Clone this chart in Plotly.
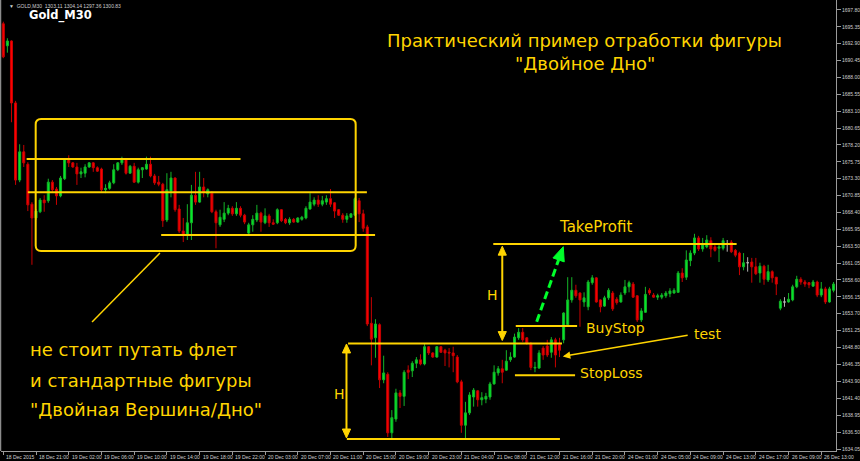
import plotly.graph_objects as go

# ---- GOLD M30 bars (bar index -> OHLC) ----
bars = list(range(204))
opens = [
    1695.8, 1692.6, 1693.3, 1684.3, 1673.1, 1677.2, 1675.4, 1669.6, 1667.6, 1668.5,
    1670.2, 1670.1, 1672.8, 1671.8, 1670.8, 1673.3, 1676.2, 1675.6, 1675.0, 1674.0,
    1674.1, 1675.0, 1675.6, 1674.9, 1674.7, 1671.7, 1671.9, 1672.7, 1674.6, 1675.6,
    1676.2, 1674.1, 1675.1, 1672.8, 1674.6, 1674.7, 1675.4, 1673.7, 1672.8, 1672.5,
    1667.3, 1671.5, 1673.4, 1668.9, 1665.7, 1665.2, 1666.9, 1670.9, 1669.9, 1672.1,
    1671.1, 1671.2, 1668.5, 1666.6, 1667.4, 1668.3, 1669.0, 1668.2, 1669.0, 1668.0,
    1665.4, 1666.6, 1667.3, 1668.3, 1666.9, 1667.9, 1666.9, 1666.9, 1668.8, 1667.4,
    1666.9, 1667.4, 1667.0, 1667.4, 1667.6, 1668.9, 1669.6, 1670.2, 1669.6, 1669.9,
    1670.4, 1669.8, 1668.8, 1668.0, 1667.4, 1667.7, 1668.0, 1670.1, 1668.2, 1666.3,
    1652.3, 1650.2, 1652.1, 1644.1, 1644.9, 1636.4, 1638.4, 1642.2, 1641.7, 1645.5,
    1645.4, 1646.5, 1647.0, 1646.4, 1648.9, 1648.0, 1647.4, 1648.9, 1648.4, 1648.1,
    1648.0, 1647.4, 1643.8, 1637.5, 1639.3, 1641.6, 1642.5, 1641.2, 1641.3, 1641.6,
    1643.5, 1645.1, 1645.7, 1645.5, 1647.0, 1647.4, 1650.2, 1651.0, 1650.2, 1649.3,
    1645.8, 1645.8, 1648.7, 1649.0, 1648.1, 1649.9, 1649.2, 1649.9, 1652.1, 1655.7,
    1657.1, 1656.7, 1655.4, 1654.7, 1658.2, 1658.9, 1655.7, 1654.8, 1656.0, 1656.7,
    1655.8, 1655.4, 1656.7, 1657.6, 1658.0, 1656.3, 1652.8, 1653.9, 1657.1, 1656.4,
    1656.1, 1656.1, 1656.3, 1656.6, 1656.7, 1656.8, 1659.6, 1659.0, 1661.4, 1662.5,
    1664.7, 1663.1, 1663.4, 1664.3, 1663.4, 1663.2, 1663.2, 1663.8, 1664.1, 1662.9,
    1662.5, 1660.5, 1661.1, 1661.2, 1660.5, 1659.6, 1660.6, 1658.6, 1659.8, 1659.0,
    1654.5, 1655.4, 1655.4, 1655.7, 1657.6, 1658.7, 1658.3, 1658.2, 1657.7, 1658.3,
    1656.4, 1657.3, 1655.4, 1657.1,
]
highs = [
    1696.1, 1693.7, 1693.4, 1684.6, 1678.3, 1678.2, 1675.7, 1669.9, 1668.9, 1670.5,
    1670.9, 1673.3, 1673.1, 1672.1, 1673.7, 1676.3, 1676.7, 1675.7, 1675.6, 1674.9,
    1675.4, 1675.7, 1675.7, 1675.1, 1674.9, 1672.5, 1673.0, 1675.4, 1675.7, 1676.5,
    1676.3, 1675.3, 1675.6, 1674.9, 1675.0, 1676.5, 1676.5, 1674.0, 1673.7, 1672.7,
    1674.1, 1674.3, 1673.5, 1669.5, 1667.6, 1669.6, 1672.4, 1674.3, 1674.3, 1673.4,
    1671.9, 1671.5, 1668.8, 1668.8, 1669.9, 1669.5, 1669.3, 1669.9, 1669.3, 1668.2,
    1666.9, 1668.0, 1669.5, 1668.5, 1669.0, 1668.2, 1667.4, 1669.0, 1668.9, 1667.6,
    1667.7, 1667.6, 1667.7, 1667.9, 1669.3, 1671.2, 1670.6, 1670.9, 1670.8, 1670.9,
    1671.8, 1669.9, 1668.9, 1668.3, 1668.3, 1668.3, 1670.6, 1670.5, 1668.8, 1666.6,
    1656.1, 1652.9, 1652.3, 1647.6, 1645.2, 1639.7, 1642.8, 1642.6, 1645.5, 1646.2,
    1646.8, 1647.4, 1647.8, 1649.3, 1649.0, 1648.1, 1649.0, 1649.0, 1648.6, 1648.7,
    1648.9, 1647.7, 1644.1, 1640.9, 1642.3, 1642.9, 1642.6, 1642.3, 1642.2, 1643.8,
    1646.2, 1646.1, 1647.0, 1648.4, 1648.1, 1650.8, 1651.6, 1651.6, 1650.3, 1649.6,
    1646.7, 1648.4, 1649.0, 1649.9, 1650.3, 1650.2, 1650.2, 1653.9, 1659.0, 1659.0,
    1657.9, 1656.8, 1656.8, 1658.6, 1659.3, 1659.0, 1655.8, 1656.3, 1657.4, 1657.0,
    1656.1, 1656.8, 1658.6, 1658.5, 1658.3, 1656.4, 1654.5, 1657.6, 1657.4, 1656.7,
    1656.6, 1656.7, 1657.0, 1657.4, 1657.4, 1659.9, 1660.3, 1662.9, 1662.9, 1665.3,
    1665.0, 1664.7, 1665.1, 1664.8, 1663.8, 1663.8, 1664.7, 1664.4, 1664.4, 1663.1,
    1662.7, 1662.5, 1661.9, 1661.8, 1661.8, 1661.1, 1660.8, 1660.8, 1660.0, 1659.0,
    1655.8, 1656.1, 1656.7, 1657.9, 1659.2, 1659.0, 1658.6, 1658.3, 1658.6, 1658.5,
    1658.3, 1657.6, 1657.6, 1658.3,
]
lows = [
    1690.8, 1691.6, 1681.5, 1672.4, 1672.8, 1675.0, 1668.6, 1660.8, 1667.3, 1668.3,
    1668.5, 1669.8, 1671.4, 1669.5, 1670.6, 1673.1, 1675.0, 1674.9, 1672.4, 1673.4,
    1673.5, 1674.9, 1674.3, 1674.3, 1671.4, 1671.2, 1671.7, 1672.5, 1674.4, 1675.3,
    1673.9, 1674.0, 1672.7, 1672.6, 1673.4, 1674.6, 1673.5, 1672.4, 1672.2, 1666.3,
    1667.0, 1670.6, 1668.5, 1665.4, 1664.1, 1664.4, 1664.4, 1669.5, 1669.8, 1670.6,
    1670.6, 1668.3, 1663.2, 1666.3, 1667.0, 1668.0, 1667.9, 1667.9, 1667.7, 1666.7,
    1665.0, 1665.6, 1667.0, 1665.6, 1666.7, 1666.3, 1666.6, 1666.7, 1667.0, 1666.7,
    1666.6, 1666.9, 1666.9, 1667.2, 1667.4, 1668.8, 1669.3, 1669.2, 1669.3, 1669.5,
    1669.2, 1667.6, 1667.9, 1666.9, 1666.9, 1667.6, 1667.9, 1667.0, 1665.6, 1651.9,
    1646.2, 1647.3, 1642.9, 1643.6, 1635.8, 1635.6, 1638.0, 1640.0, 1640.3, 1644.2,
    1644.5, 1645.8, 1646.2, 1646.2, 1647.7, 1647.3, 1647.3, 1648.0, 1646.1, 1645.9,
    1645.2, 1643.6, 1636.4, 1635.6, 1639.0, 1640.2, 1640.2, 1640.4, 1640.7, 1641.2,
    1643.4, 1644.7, 1643.6, 1645.4, 1646.7, 1647.3, 1649.9, 1649.6, 1649.2, 1645.5,
    1645.2, 1645.7, 1647.0, 1647.4, 1647.3, 1645.9, 1647.4, 1649.4, 1651.8, 1655.3,
    1656.0, 1651.8, 1654.7, 1654.2, 1657.9, 1655.3, 1653.9, 1654.7, 1655.7, 1654.1,
    1655.0, 1655.3, 1656.4, 1656.8, 1656.0, 1652.5, 1652.5, 1653.8, 1656.4, 1656.0,
    1655.7, 1655.8, 1656.0, 1656.1, 1656.6, 1656.7, 1658.3, 1658.6, 1660.6, 1662.2,
    1662.8, 1662.7, 1663.2, 1661.9, 1662.7, 1661.2, 1662.9, 1662.7, 1662.5, 1661.9,
    1659.3, 1660.0, 1659.8, 1658.2, 1659.3, 1658.2, 1657.9, 1658.3, 1658.2, 1656.4,
    1654.2, 1654.7, 1655.3, 1655.5, 1657.4, 1657.9, 1657.6, 1657.4, 1657.6, 1656.1,
    1656.1, 1655.1, 1655.3, 1656.8,
]
closes = [
    1691.0, 1693.3, 1684.3, 1673.1, 1677.2, 1675.6, 1669.5, 1667.6, 1668.6, 1670.2,
    1669.8, 1672.8, 1671.7, 1670.8, 1673.4, 1676.2, 1675.6, 1675.0, 1674.0, 1674.3,
    1675.0, 1675.6, 1674.9, 1674.4, 1671.7, 1671.9, 1672.7, 1674.6, 1675.6, 1676.2,
    1674.1, 1675.1, 1672.8, 1674.6, 1674.9, 1675.4, 1673.7, 1672.7, 1672.5, 1667.2,
    1671.7, 1673.4, 1668.8, 1665.7, 1665.1, 1666.9, 1670.9, 1669.9, 1672.1, 1671.4,
    1671.7, 1668.5, 1666.9, 1667.7, 1668.3, 1669.0, 1668.2, 1669.0, 1668.0, 1667.0,
    1666.6, 1667.4, 1668.3, 1667.0, 1667.9, 1666.9, 1666.7, 1668.8, 1667.2, 1666.9,
    1667.4, 1667.0, 1667.6, 1667.7, 1669.0, 1669.9, 1670.2, 1669.6, 1670.1, 1670.4,
    1669.6, 1668.6, 1668.0, 1667.4, 1667.9, 1668.2, 1670.4, 1668.2, 1666.1, 1652.2,
    1650.0, 1652.2, 1644.1, 1645.1, 1636.4, 1638.6, 1642.2, 1641.7, 1645.2, 1645.2,
    1646.5, 1647.0, 1646.4, 1648.9, 1648.0, 1647.4, 1648.9, 1648.1, 1648.0, 1648.0,
    1647.6, 1643.8, 1637.5, 1639.3, 1641.9, 1642.6, 1641.2, 1641.5, 1641.7, 1643.5,
    1645.2, 1645.7, 1645.2, 1646.8, 1647.4, 1650.3, 1651.0, 1649.9, 1649.4, 1645.9,
    1645.9, 1648.0, 1647.7, 1647.7, 1649.9, 1647.7, 1648.4, 1653.8, 1655.7, 1657.1,
    1656.3, 1655.7, 1656.0, 1658.3, 1658.9, 1655.4, 1654.7, 1656.0, 1657.1, 1654.4,
    1655.3, 1656.4, 1657.6, 1658.2, 1656.1, 1652.8, 1654.1, 1656.5, 1656.7, 1656.1,
    1656.3, 1656.4, 1656.7, 1657.0, 1657.1, 1659.6, 1658.9, 1661.5, 1662.5, 1664.7,
    1663.1, 1663.7, 1664.4, 1663.1, 1662.9, 1663.4, 1664.3, 1663.8, 1662.7, 1662.2,
    1660.5, 1661.1, 1661.1, 1660.5, 1659.5, 1660.6, 1658.7, 1659.8, 1658.9, 1658.0,
    1655.5, 1655.4, 1655.8, 1657.6, 1658.7, 1658.3, 1658.0, 1657.9, 1658.3, 1656.4,
    1657.3, 1655.4, 1657.3, 1658.0,
]
doji_bars = [177, 182, 191]

# ---- axis labels ----
price_ticks = [1634.05, 1636.50, 1638.95, 1641.40, 1643.90, 1646.35, 1648.80,
               1651.25, 1653.70, 1656.15, 1658.60, 1661.05, 1663.50, 1665.95,
               1668.40, 1670.85, 1673.30, 1675.75, 1678.20, 1680.65, 1683.10,
               1685.55, 1688.00, 1690.45, 1692.90, 1695.35, 1697.80]
time_ticks = list(range(0, 204, 8))
time_labels = ["18 Dec 2015", "18 Dec 21:00", "19 Dec 02:00", "19 Dec 06:00",
               "19 Dec 10:00", "19 Dec 14:00", "19 Dec 18:00", "19 Dec 22:00",
               "20 Dec 03:00", "20 Dec 07:00", "20 Dec 11:00", "20 Dec 15:00",
               "20 Dec 19:00", "20 Dec 23:00", "21 Dec 04:00", "21 Dec 08:00",
               "21 Dec 12:00", "21 Dec 16:00", "21 Dec 20:00", "24 Dec 01:00",
               "24 Dec 05:00", "24 Dec 09:00", "24 Dec 13:00", "24 Dec 17:00",
               "26 Dec 09:00", "26 Dec 13:00"]

# ---- drawn levels (price) ----
flat_top, flat_mid, flat_low = 1676.16, 1671.33, 1665.13
neckline, pattern_low = 1649.37, 1635.51
take_profit, buy_stop, stop_loss = 1663.82, 1651.90, 1644.76

YELLOW = "#FFD400"
GREEN_ARROW = "#00FF2A"
AXIS = "#9a9a9a"
FONT = "DejaVu Sans"

main = [i for i in bars if i not in doji_bars]

fig = go.Figure()
fig.add_trace(go.Candlestick(
    x=main,
    open=[opens[i] for i in main], high=[highs[i] for i in main],
    low=[lows[i] for i in main], close=[closes[i] for i in main],
    increasing=dict(line=dict(color="#14b428", width=1), fillcolor="#00ee2a"),
    decreasing=dict(line=dict(color="#c80000", width=1), fillcolor="#ff0000"),
    whiskerwidth=0, hoverinfo="skip", showlegend=False,
))
fig.add_trace(go.Candlestick(
    x=doji_bars,
    open=[opens[i] for i in doji_bars], high=[highs[i] for i in doji_bars],
    low=[lows[i] for i in doji_bars], close=[closes[i] for i in doji_bars],
    increasing=dict(line=dict(color="#b4b4b4", width=1), fillcolor="#b4b4b4"),
    decreasing=dict(line=dict(color="#b4b4b4", width=1), fillcolor="#b4b4b4"),
    whiskerwidth=0, hoverinfo="skip", showlegend=False,
))


def hline(y, x0, x1, width=2, color=YELLOW):
    return dict(type="line", xref="x", yref="y", x0=x0, x1=x1, y0=y, y1=y,
                line=dict(color=color, width=width))


def rounded_box(x0, x1, y0, y1, rx, ry):
    path = (f"M{x0 + rx},{y1} L{x1 - rx},{y1} Q{x1},{y1} {x1},{y1 - ry} "
            f"L{x1},{y0 + ry} Q{x1},{y0} {x1 - rx},{y0} L{x0 + rx},{y0} "
            f"Q{x0},{y0} {x0},{y0 + ry} L{x0},{y1 - ry} Q{x0},{y1} {x0 + rx},{y1} Z")
    return dict(type="path", xref="x", yref="y", path=path,
                line=dict(color=YELLOW, width=2))


def double_arrow(x, y_top, y_bot, hw=1.0, hl=1.3):
    line = dict(type="line", xref="x", yref="y", x0=x, x1=x,
                y0=y_top - hl * 0.5, y1=y_bot + hl * 0.5,
                line=dict(color=YELLOW, width=2))
    top = dict(type="path", xref="x", yref="y",
               path=f"M{x},{y_top} L{x - hw},{y_top - hl} L{x + hw},{y_top - hl} Z",
               fillcolor=YELLOW, line=dict(color=YELLOW, width=1))
    bot = dict(type="path", xref="x", yref="y",
               path=f"M{x},{y_bot} L{x - hw},{y_bot + hl} L{x + hw},{y_bot + hl} Z",
               fillcolor=YELLOW, line=dict(color=YELLOW, width=1))
    return [line, top, bot]


shapes = [
    rounded_box(7.92, 86.16, 1662.80, 1681.97, 1.3, 0.8),
    hline(flat_top, 5.7, 58.0),
    hline(flat_mid, 6.0, 88.9),
    hline(flat_low, 38.6, 90.9),
    dict(type="line", xref="x", yref="y", x0=38.3, y0=1662.5, x1=21.7, y1=1652.5,
         line=dict(color=YELLOW, width=1.5)),
    hline(neckline, 84.3, 136.6),
    hline(pattern_low, 84.0, 136.1),
    hline(take_profit, 119.8, 179.3),
    hline(buy_stop, 125.3, 140.3),
    hline(stop_loss, 125.1, 139.8),
    # projected breakout move
    dict(type="line", xref="x", yref="y", x0=130.42, y0=1652.54, x1=135.77, y1=1661.51,
         line=dict(color=GREEN_ARROW, width=3, dash="8px,4px")),
    dict(type="path", xref="x", yref="y",
         path="M136.92,1663.43 L137.15,1661.22 L134.39,1661.80 Z",
         fillcolor=GREEN_ARROW, line=dict(color=GREEN_ARROW, width=1)),
    # window frame on the left
    dict(type="line", xref="paper", yref="paper", x0=-0.0006, x1=-0.0006, y0=0, y1=1,
         line=dict(color="#8c8c8c", width=1.5)),
]
shapes += double_arrow(83.91, 1649.3, 1635.65)
shapes += double_arrow(122.0, 1663.5, 1649.8)


def label(text, x, y, size, color=YELLOW, xanchor="center", bold=False, family=FONT):
    t = f"<b>{text}</b>" if bold else text
    return dict(text=t, x=x, y=y, xref="x", yref="y", showarrow=False,
                xanchor=xanchor, yanchor="middle",
                font=dict(family=family, size=size, color=color))


annotations = [
    label("Практический пример отработки фигуры", 142.2, 1693.3, 18),
    label("\"Двойное Дно\"", 142.2, 1689.96, 18),
    label("не стоит путать флет", 6.0, 1648.43, 18, xanchor="left"),
    label("и стандартные фигуры", 6.0, 1644.07, 18, xanchor="left"),
    label("\"Двойная Вершина/Дно\"", 6.0, 1639.72, 18, xanchor="left"),
    label("Gold_M30", 5.8, 1696.93, 11.5, color="#ffffff", xanchor="left", bold=True),
    label("\u25bc  GOLD,M30  1303.11 1304.14 1297.36 1300.83", 0.8, 1698.35, 5,
          color="#cfcfcf", xanchor="left", family="Liberation Sans"),
    label("H", 82.1, 1642.04, 14),
    label("H", 119.5, 1656.4, 14),
    label("TakeProfit", 144.7, 1666.3, 15),
    label("BuyStop", 149.6, 1651.6, 14),
    label("StopLoss", 148.6, 1645.1, 14),
    label("test", 172.1, 1650.75, 14),
    dict(x=136.8, y=1647.5, ax=167.7, ay=1650.6, xref="x", yref="y",
         axref="x", ayref="y", text="", showarrow=True, arrowhead=2,
         arrowsize=1, arrowwidth=1.5, arrowcolor=YELLOW),
]
for pos, txt in zip(time_ticks, time_labels):
    annotations.append(dict(text=txt, x=pos, y=0, xref="x", yref="paper",
                            xanchor="left", yanchor="top", xshift=1, yshift=-1,
                            showarrow=False,
                            font=dict(family="Liberation Sans", size=5, color="#cfcfcf")))

fig.update_layout(
    width=860, height=461,
    margin=dict(l=1, r=24, t=0, b=10),
    paper_bgcolor="#000000", plot_bgcolor="#000000",
    shapes=shapes, annotations=annotations,
    showlegend=False, hovermode=False,
    xaxis=dict(range=[-0.562, 203.6], showgrid=False, zeroline=False,
               tickvals=time_ticks, showticklabels=False, ticks="outside",
               ticklen=3, tickcolor=AXIS, showline=True, linecolor=AXIS,
               linewidth=1, rangeslider=dict(visible=False), fixedrange=True),
    yaxis=dict(range=[1633.76, 1699.25], side="right", showgrid=False,
               zeroline=False, tickvals=price_ticks,
               ticktext=[f"{v:.2f}" for v in price_ticks],
               ticks="outside", ticklen=4, tickcolor=AXIS, showline=True,
               linecolor=AXIS, linewidth=1,
               tickfont=dict(family="Liberation Sans", size=5, color="#cfcfcf"),
               fixedrange=True),
)

fig.write_html("out.html")
